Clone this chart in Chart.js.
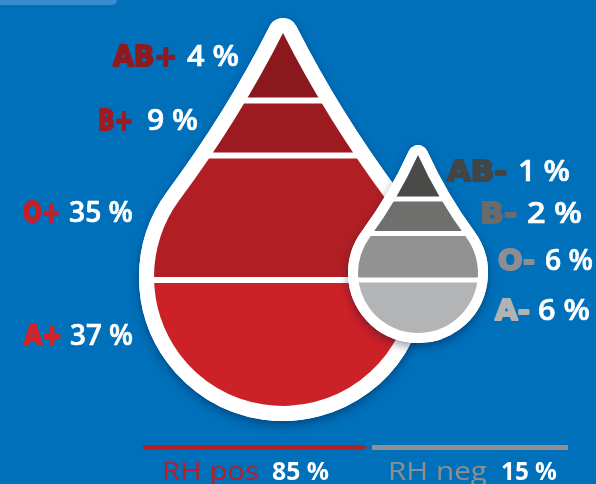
<!DOCTYPE html>
<html>
<head>
<meta charset="utf-8">
<script src="https://cdn.jsdelivr.net/npm/chart.js@4"></script>
<style>
  html, body { margin: 0; padding: 0; background: #0070ba; }
  #wrap { width: 596px; height: 484px; }
</style>
</head>
<body>
<div id="wrap"><canvas id="blood-chart" width="596" height="484"></canvas></div>
<script>
// data
const posTypes = ['AB+', 'B+', 'O+', 'A+'];
const posValues = [4, 9, 35, 37];
const negTypes = ['AB-', 'B-', 'O-', 'A-'];
const negValues = [1, 2, 6, 6];
const rhLabels = ['RH pos', 'RH neg'];
const rhValues = [85, 15];

// colours
const posBand = ['#8b181d', '#9c1b21', '#b11f25', '#cd2128'];
const posText = ['#8e1a1f', '#9e1b21', '#c4202a', '#d4232a'];
const negBand = ['#4a4a49', '#6f6f6e', '#929292', '#b3b4b6'];
const negText = ['#444444', '#6b6b6b', '#8e8e8e', '#b2b2b2'];
const rhColors = ['#b81f25', '#8f8f8f'];

// drop layout (in scale units)
const bigDrop = { cx: 283, cy: 277, r: 129, tip: 33, ring: 15, cuts: [100.5, 155.5, 280], gap: 6 };
const smallDrop = { cx: 418, cy: 273, r: 60, tip: 155, ring: 10, cuts: [199, 233.5, 280], gap: 5 };

// label boxes: [typeLeft, typeRight, numLeft, numRight, baseline]
const posBoxes = [[113, 177, 187, 239, 66], [98, 133, 147, 198, 130], [23, 60, 69, 133, 222], [24, 62, 70, 133, 345]];
const negBoxes = [[447, 507, 518, 570, 181], [480, 517, 527, 582, 223], [498, 535, 545, 593, 270], [495, 530, 538, 590, 320]];
const rhBars = [[143, 365], [372, 568]];
const rhBoxes = [[162, 259, 272, 329, 480], [388, 487, 501, 557, 480]];

function fitText(ctx, text, left, right, base, font, color, heavy) {
	ctx.save();
	ctx.font = font;
	ctx.fillStyle = color;
	ctx.strokeStyle = color;
	ctx.textBaseline = 'alphabetic';
	ctx.textAlign = 'left';
	var w = ctx.measureText(text).width;
	ctx.translate(left, base);
	ctx.scale((right - left) / w, 1);
	if (heavy) {
		ctx.lineWidth = heavy;
		ctx.lineJoin = 'round';
		ctx.strokeText(text, 0, 0);
	}
	ctx.fillText(text, 0, 0);
	ctx.restore();
}

function dropPath(ctx, X, Y, d) {
	var cx = X(d.cx), cy = Y(d.cy), tipY = Y(d.tip);
	var r = X(d.cx + d.r) - cx;
	var b = 53.4 * Math.PI / 180;
	var t = 0.775 * r;
	var jx = r * Math.sin(b), jy = -r * Math.cos(b);
	var cxo = jx - t * Math.cos(b), cyo = jy - t * Math.sin(b);
	var a = Math.atan2(jy, jx);
	ctx.beginPath();
	ctx.moveTo(cx, tipY);
	ctx.quadraticCurveTo(cx + cxo, cy + cyo, cx + jx, cy + jy);
	ctx.arc(cx, cy, r, a, Math.PI - a, false);
	ctx.quadraticCurveTo(cx - cxo, cy + cyo, cx, tipY);
	ctx.closePath();
}

function drawDrop(ctx, X, Y, d, colors, area) {
	// white ring with a soft shadow
	ctx.save();
	ctx.fillStyle = '#ffffff';
	ctx.strokeStyle = '#ffffff';
	ctx.lineJoin = 'round';
	ctx.lineWidth = d.ring * 2;
	ctx.shadowColor = 'rgba(0, 20, 60, 0.4)';
	ctx.shadowBlur = 10;
	ctx.shadowOffsetY = 4;
	dropPath(ctx, X, Y, d);
	ctx.fill();
	ctx.stroke();
	ctx.shadowColor = 'transparent';
	dropPath(ctx, X, Y, d);
	ctx.fill();
	ctx.stroke();
	ctx.restore();

	// bands
	ctx.save();
	dropPath(ctx, X, Y, d);
	ctx.clip();
	var edges = [d.tip - 10].concat(d.cuts).concat([d.cy + d.r + 10]);
	for (var i = 0; i < colors.length; i++) {
		var top = edges[i] + (i > 0 ? d.gap / 2 : 0);
		var bot = edges[i + 1] - (i < colors.length - 1 ? d.gap / 2 : 0);
		ctx.fillStyle = colors[i];
		ctx.fillRect(area.left, Y(top), area.right - area.left, Y(bot) - Y(top));
	}
	ctx.restore();
}

const dropsPlugin = {
	id: 'drops',
	beforeDraw: function(chart) {
		var ctx = chart.ctx;
		ctx.save();
		ctx.fillStyle = '#0070ba';
		ctx.fillRect(0, 0, chart.width, chart.height);
		// light tab at the top left
		ctx.fillStyle = '#3a8bcf';
		ctx.beginPath();
		ctx.roundRect(-10, -20, 127, 25, 5);
		ctx.fill();
		ctx.restore();
	},
	afterDraw: function(chart) {
		var ctx = chart.ctx, area = chart.chartArea;
		var xs = chart.scales.x, ys = chart.scales.y;
		var X = function(v) { return xs.getPixelForValue(v); };
		var Y = function(v) { return ys.getPixelForValue(v); };

		drawDrop(ctx, X, Y, bigDrop, posBand, area);
		drawDrop(ctx, X, Y, smallDrop, negBand, area);

		var typeFont = 'bold 28px "DejaVu Sans"';
		var numFont = '600 28px "Open Sans"';

		posTypes.forEach(function(t, i) {
			var bx = posBoxes[i];
			fitText(ctx, t, X(bx[0]), X(bx[1]), Y(bx[4]), typeFont, posText[i], 2);
			fitText(ctx, posValues[i] + ' %', X(bx[2]), X(bx[3]), Y(bx[4]), numFont, '#ffffff', 0.6);
		});
		negTypes.forEach(function(t, i) {
			var bx = negBoxes[i];
			fitText(ctx, t, X(bx[0]), X(bx[1]), Y(bx[4]), typeFont, negText[i], 2);
			fitText(ctx, negValues[i] + ' %', X(bx[2]), X(bx[3]), Y(bx[4]), numFont, '#ffffff', 0.6);
		});

		// RH bars and labels
		rhLabels.forEach(function(t, i) {
			var br = rhBars[i], bx = rhBoxes[i];
			ctx.save();
			ctx.fillStyle = rhColors[i];
			ctx.fillRect(X(br[0]), Y(445), X(br[1]) - X(br[0]), Y(450) - Y(445));
			ctx.restore();
			fitText(ctx, t, X(bx[0]), X(bx[1]), Y(bx[4]), '400 25px "Open Sans"', rhColors[i]);
			fitText(ctx, rhValues[i] + ' %', X(bx[2]), X(bx[3]), Y(bx[4]), '700 25px "Open Sans"', '#ffffff');
		});
	}
};

new Chart(document.getElementById('blood-chart'), {
	type: 'scatter',
	data: { datasets: [{ data: [] }] },
	options: {
		responsive: false,
		animation: false,
		layout: { padding: 0 },
		plugins: { legend: { display: false }, tooltip: { enabled: false } },
		scales: {
			x: { type: 'linear', min: 0, max: 596, display: false },
			y: { type: 'linear', min: 0, max: 484, reverse: true, display: false }
		}
	},
	plugins: [dropsPlugin]
});
</script>
</body>
</html>
